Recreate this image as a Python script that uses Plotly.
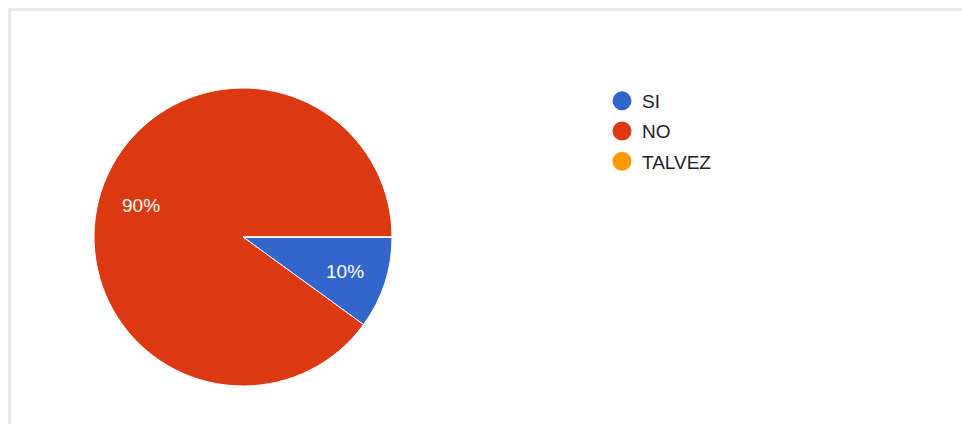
import math
import plotly.graph_objects as go

labels = ["SI", "NO", "TALVEZ"]
values = [1, 9, 0]
colors = ["#3366cc", "#dc3912", "#ff9900"]

W, H = 962, 424
cx, cy, r = 243, 237, 149
x0d, x1d = (cx - r) / W, (cx + r) / W
y0d, y1d = (H - cy - r) / H, (H - cy + r) / H
FONT = "Arial, Liberation Sans, sans-serif"

fig = go.Figure()
fig.add_trace(go.Pie(
    labels=labels, values=values, sort=False, direction="clockwise", rotation=90,
    marker=dict(colors=colors, line=dict(color="white", width=1)),
    textinfo="none", showlegend=False, hoverinfo="label+percent",
    domain=dict(x=[x0d, x1d], y=[y0d, y1d]),
))

# percentage labels placed along each slice bisector (computed from the values)
total = sum(values)
start = 0.0  # degrees clockwise from 3 o'clock
annotations = []
for lab, v in zip(labels, values):
    if v <= 0:
        continue
    frac = v / total
    mid = math.radians(start + frac * 360 / 2)
    start += frac * 360
    px = cx + 0.72 * r * math.cos(mid)
    py = cy + 0.72 * r * math.sin(mid) + 1.5
    annotations.append(dict(
        x=px / W, y=1 - py / H, xref="paper", yref="paper", showarrow=False,
        text=f"{round(frac * 100)}%", xanchor="center", yanchor="middle",
        font=dict(color="white", size=19, family=FONT),
    ))

for lab, col in zip(labels, colors):
    fig.add_trace(go.Scatter(x=[None], y=[None], mode="markers", name=lab, legendgroup=lab,
                             marker=dict(symbol="circle", size=16, color=col,
                                         line=dict(color=col, width=3))))

fig.update_layout(
    width=W, height=H, margin=dict(l=0, r=0, t=0, b=0),
    paper_bgcolor="white", plot_bgcolor="rgba(0,0,0,0)",
    xaxis=dict(visible=False), yaxis=dict(visible=False),
    legend=dict(x=602 / W, y=1 - 82 / H, xanchor="left", yanchor="top",
                font=dict(size=19, color="#222222", family=FONT),
                itemsizing="trace", tracegroupgap=2.5, bgcolor="rgba(0,0,0,0)"),
    annotations=annotations,
    shapes=[
        dict(type="rect", xref="paper", yref="paper", x0=8 / W, x1=1.0, y0=0, y1=1 - 8 / H,
             line=dict(width=0), fillcolor="#e8e8e8", layer="below"),
        dict(type="rect", xref="paper", yref="paper", x0=11 / W, x1=1.0, y0=0, y1=1 - 11 / H,
             line=dict(width=0), fillcolor="white", layer="below"),
    ],
)
fig.write_html("out.html", config={"displayModeBar": False},
               post_script="document.body.style.margin='0';")
